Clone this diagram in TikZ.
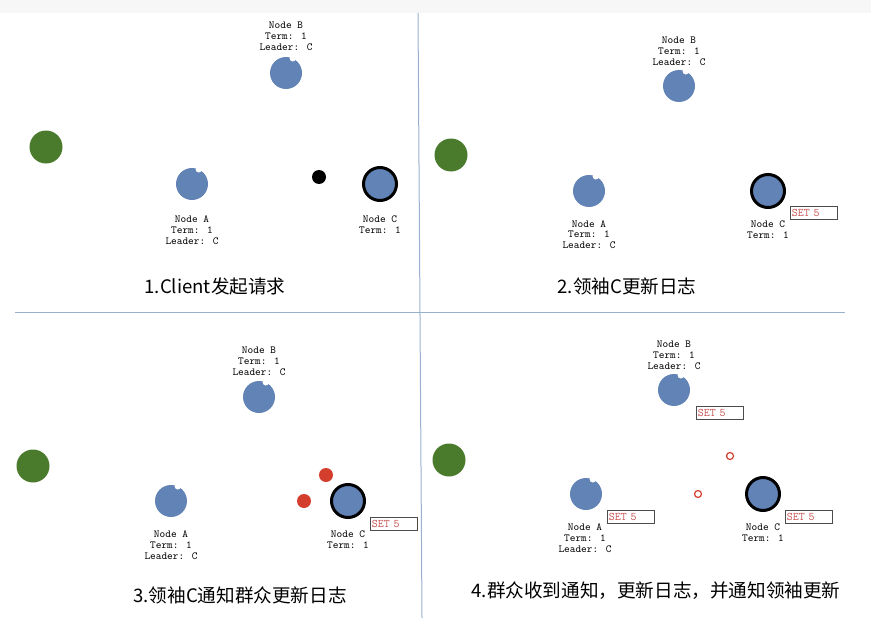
\documentclass[tikz,border=0pt]{standalone}
\usepackage{fontspec}
\newfontfamily\cjk{Noto Sans CJK SC}
\usepackage{tikz}
\usetikzlibrary{positioning}
\usepackage{xcolor}
\definecolor{nodeblue}{RGB}{98,131,181}
\definecolor{client}{RGB}{74,122,44}
\definecolor{msg}{RGB}{212,62,44}
\definecolor{setred}{RGB}{200,80,80}
\definecolor{rule}{RGB}{150,176,206}

\tikzset{
  follower/.style={circle, fill=nodeblue, minimum size=32pt, inner sep=0pt},
  leader/.style={circle, fill=nodeblue, draw=black, line width=3pt, minimum size=33pt, inner sep=0pt},
  clientdot/.style={circle, fill=client, minimum size=33pt, inner sep=0pt},
  reqdot/.style={circle, fill=black, minimum size=14pt, inner sep=0pt},
  rpcdot/.style={circle, fill=msg, minimum size=14pt, inner sep=0pt},
  ackdot/.style={circle, draw=msg, line width=1.2pt, minimum size=7pt, inner sep=0pt},
  info/.style={align=center, font=\fontsize{10.8}{10.8}\selectfont\ttfamily},
  logbox/.style={draw=black!70, line width=0.8pt, text=setred, anchor=north west,
    font=\fontsize{11.6}{11}\selectfont\ttfamily, text width=44pt, minimum height=13pt,
    inner xsep=1.5pt, inner ysep=0pt, align=left},
  caption/.style={font=\cjk\fontsize{18.6}{18}\selectfont},
}

\begin{document}
\begin{tikzpicture}[x=1pt, y=-1pt]
    \useasboundingbox (0,0) rectangle (871,618);
    \fill[black!3] (0,0) rectangle (871,13);
    \draw[rule, line width=1pt] (418,13) -- (422,618);
    \draw[rule, line width=1pt] (15,312) -- (845,312);

    % 1. client request
    \node[clientdot] (cl1) at (46,147) {};
    \node[follower] (b1) at (286,73) {};
    \node[follower] (a1) at (192,184) {};
    \node[leader] (c1) at (380,184) {};
    \node[reqdot] (req) at (319,177) {};
    \node[info] (ib1) at (286,36) {Node B\\Term: 1\\Leader: C};
    \node[info] (ia1) at (192,230) {Node A\\Term: 1\\Leader: C};
    \node[info] (ic1) at (380,225) {Node C\\Term: 1};
    \node[caption] (t1) at (215,286) {1.Client发起请求};

    % 2. leader appends
    \node[clientdot] (cl2) at (451,155) {};
    \node[follower] (b2) at (679,86) {};
    \node[follower] (a2) at (589,191) {};
    \node[leader] (c2) at (768,191) {};
    \node[info] (ib2) at (679,51) {Node B\\Term: 1\\Leader: C};
    \node[info] (ia2) at (589,234.5) {Node A\\Term: 1\\Leader: C};
    \node[info] (ic2) at (768,229.5) {Node C\\Term: 1};
    \node[logbox] (lc2) at (790,206) {SET 5};
    \node[caption] (t2) at (627,286) {2.领袖C更新日志};

    % 3. leader replicates
    \node[clientdot] (cl3) at (33,466) {};
    \node[follower] (b3) at (259,397) {};
    \node[follower] (a3) at (171,501) {};
    \node[leader] (c3) at (348,501) {};
    \node[rpcdot] (rb3) at (326,475) {};
    \node[rpcdot] (ra3) at (304,501) {};
    \node[info] (ib3) at (259,361.5) {Node B\\Term: 1\\Leader: C};
    \node[info] (ia3) at (171,545) {Node A\\Term: 1\\Leader: C};
    \node[info] (ic3) at (348,540) {Node C\\Term: 1};
    \node[logbox] (lc3) at (370,517) {SET 5};
    \node[caption] (t3) at (240,595) {3.领袖C通知群众更新日志};

    % 4. followers append
    \node[clientdot] (cl4) at (449,460) {};
    \node[follower] (b4) at (674,390) {};
    \node[follower] (a4) at (586,494) {};
    \node[leader] (c4) at (763,494) {};
    \node[ackdot] (kb4) at (730,456) {};
    \node[ackdot] (ka4) at (698,494) {};
    \node[info] (ib4) at (674,355.5) {Node B\\Term: 1\\Leader: C};
    \node[info] (ia4) at (585,538) {Node A\\Term: 1\\Leader: C};
    \node[info] (ic4) at (763,533) {Node C\\Term: 1};
    \node[logbox] (lb4) at (696,406) {SET 5};
    \node[logbox] (la4) at (607,510) {SET 5};
    \node[logbox] (lc4) at (785,510) {SET 5};
    \node[caption, anchor=west] (t4) at (468,591) {4.群众收到通知，更新日志，并通知领袖更新};

    % timer notch on the followers
    \foreach \n in {a1,b1,a2,b2,a3,b3,a4,b4}
      \fill[white] (\n.65) circle (3.2pt);
\end{tikzpicture}
\end{document}
